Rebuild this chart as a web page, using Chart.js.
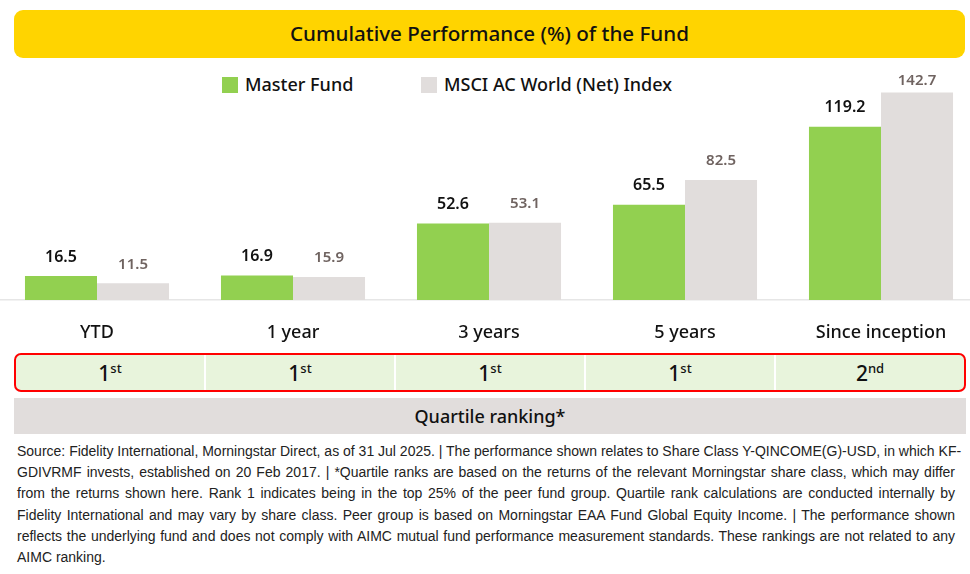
<!DOCTYPE html>
<html>
<head>
<meta charset="utf-8">
<script src="https://cdn.jsdelivr.net/npm/chart.js@4.4.1/dist/chart.umd.min.js"></script>
<style>
	html, body {
		margin: 0;
		padding: 0;
		width: 970px;
		height: 574px;
		overflow: hidden;
		background: #fff;
		font-family: 'Noto Sans', sans-serif;
		color: #111;
	}
	.title {
		position: absolute;
		left: 14px;
		top: 10px;
		width: 951px;
		height: 48px;
		background: #ffd400;
		border-radius: 9px;
		text-align: center;
		line-height: 46px;
		font-size: 20.6px;
		font-weight: 500;
	}
	.legend {
		position: absolute;
		top: 72px;
		font-size: 18px;
		line-height: 24px;
		font-weight: 500;
	}
	.legend span {
		display: inline-block;
		width: 16px;
		height: 16px;
		margin-right: 7px;
		vertical-align: -2px;
	}
	#wrap {
		position: absolute;
		left: -1px;
		top: 0;
		width: 980px;
		height: 345px;
	}
	.ranks {
		position: absolute;
		left: 14px;
		top: 353px;
		width: 948px;
		height: 35px;
		border: 2px solid #f00;
		border-radius: 7px;
		background: #e8f4dc;
		display: flex;
		overflow: hidden;
	}
	.ranks div {
		flex: 1;
		text-align: center;
		font-size: 21px;
		line-height: 37px;
		font-weight: 500;
		border-left: 2px solid #fff;
	}
	.ranks div:first-child {
		border-left: none;
	}
	.ranks sup {
		font-size: 13px;
		vertical-align: 8px;
		line-height: 0;
	}
	.quartile {
		position: absolute;
		left: 14px;
		top: 398px;
		width: 952px;
		height: 36px;
		background: #e1dddc;
		text-align: center;
		line-height: 36px;
		font-size: 18px;
		font-weight: 500;
	}
	.notes {
		position: absolute;
		left: 17px;
		top: 441px;
		width: 938px;
		font-size: 14px;
		line-height: 21.2px;
		color: #222;
		font-family: 'Liberation Sans', sans-serif;
	}
	.notes div {
		white-space: nowrap;
		text-align: justify;
		text-align-last: justify;
	}
	.notes div:last-child {
		text-align-last: left;
	}
</style>
</head>
<body>
<div class="title">Cumulative Performance (%) of the Fund</div>
<div class="legend" style="left:222px"><span style="background:#92d050"></span>Master Fund</div>
<div class="legend" style="left:421px"><span style="background:#e1dddc"></span>MSCI AC World (Net) Index</div>
<div id="wrap"><canvas id="chart"></canvas></div>
<div class="ranks" id="ranks"></div>
<div class="quartile">Quartile ranking*</div>
<div class="notes" id="notes"></div>
<script>
const categories = ['YTD', '1 year', '3 years', '5 years', 'Since inception'];
const masterFund = [16.5, 16.9, 52.6, 65.5, 119.2];
const msciIndex = [11.5, 15.9, 53.1, 82.5, 142.7];
const rankNumbers = ['1', '1', '1', '1', '2'];
const rankSuffixes = ['st', 'st', 'st', 'st', 'nd'];
const noteLines = [
	'Source: Fidelity International, Morningstar Direct, as of 31 Jul 2025. | The performance shown relates to Share Class Y-QINCOME(G)-USD, in which KF-',
	'GDIVRMF invests, established on 20 Feb 2017. | *Quartile ranks are based on the returns of the relevant Morningstar share class, which may differ',
	'from the returns shown here. Rank 1 indicates being in the top 25% of the peer fund group. Quartile rank calculations are conducted internally by',
	'Fidelity International and may vary by share class. Peer group is based on Morningstar EAA Fund Global Equity Income. | The performance shown',
	'reflects the underlying fund and does not comply with AIMC mutual fund performance measurement standards. These rankings are not related to any',
	'AIMC ranking.',
];

// ranking row and footnote
let ranksEl = document.getElementById('ranks');
rankNumbers.forEach(function (n, i) {
	let d = document.createElement('div');
	d.innerHTML = n + '<sup>' + rankSuffixes[i] + '</sup>';
	ranksEl.appendChild(d);
});
let notesEl = document.getElementById('notes');
noteLines.forEach(function (line) {
	let d = document.createElement('div');
	d.textContent = line;
	notesEl.appendChild(d);
});

// value labels above bars
const barLabels = {
	id: 'barLabels',
	afterDatasetsDraw: function (chart) {
		let ctx = chart.ctx;
		ctx.save();
		ctx.textAlign = 'center';
		ctx.textBaseline = 'middle';
		chart.data.datasets.forEach(function (ds, i) {
			let meta = chart.getDatasetMeta(i);
			meta.data.forEach(function (bar, j) {
				ctx.fillStyle = i === 0 ? '#111' : '#6f6360';
				ctx.font = i === 0 ? '600 16px "Noto Sans"' : '600 15px "Noto Sans"';
				let y = Math.max(bar.y - 19, 81);
				ctx.fillText(ds.data[j].toFixed(1), bar.x, y);
			});
		});
		ctx.restore();
	},
};

new Chart(document.getElementById('chart'), {
	type: 'bar',
	data: {
		labels: categories,
		datasets: [
			{ label: 'Master Fund', data: masterFund, backgroundColor: '#92d050' },
			{ label: 'MSCI AC World (Net) Index', data: msciIndex, backgroundColor: '#e1dddc' },
		],
	},
	options: {
		responsive: true,
		maintainAspectRatio: false,
		animation: false,
		layout: { padding: { top: 82, left: 0, right: 0, bottom: 0 } },
		plugins: {
			legend: { display: false },
			tooltip: { enabled: false },
		},
		datasets: {
			bar: { barPercentage: 1, categoryPercentage: 0.735 },
		},
		scales: {
			x: {
				grid: { display: false, drawTicks: false },
				border: { display: true, color: '#e6e6e6', width: 1.5 },
				ticks: {
					color: '#111',
					padding: 22,
					font: { family: 'Noto Sans', size: 18, weight: 500 },
				},
				afterFit: function (scale) {
					scale.height = 45;
				},
			},
			y: {
				display: false,
				min: 0,
				max: 150,
			},
		},
	},
	plugins: [barLabels],
});
</script>
</body>
</html>
